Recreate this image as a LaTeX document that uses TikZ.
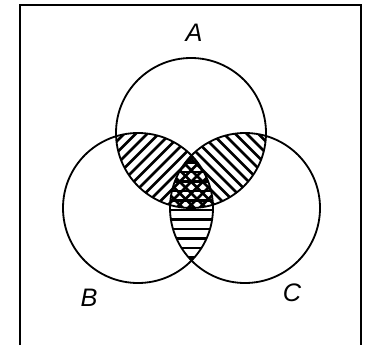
\documentclass[tikz,border=0pt]{standalone}
\usepackage{fontspec}
\setsansfont{Liberation Sans}
\tikzset{
  setline/.style={line width=1.3pt},
  hatch/.style={line width=1.8pt},
  frameline/.style={line width=1.6pt},
  setlabel/.style={font=\sffamily\itshape\fontsize{18}{20}\selectfont, inner sep=0pt}
}
\begin{document}
\begin{tikzpicture}[x=0.25mm, y=-0.25mm]
    \useasboundingbox (0,0) rectangle (366,345);
    \coordinate (cA) at (191,133);
    \coordinate (cB) at (138,208);
    \coordinate (cC) at (245,208);
    % A and B
    \begin{scope}
      \clip (cA) circle[radius=75];
      \clip (cB) circle[radius=75];
      \foreach \c in {235,246.5,...,430} \draw[hatch] (\c-50,50) -- (\c-300,300);
    \end{scope}
    % A and C
    \begin{scope}
      \clip (cA) circle[radius=75];
      \clip (cC) circle[radius=75];
      \foreach \c in {-48,-36.5,...,148} \draw[hatch] (\c+50,50) -- (\c+300,300);
    \end{scope}
    % B and C
    \begin{scope}
      \clip (cB) circle[radius=75];
      \clip (cC) circle[radius=75];
      \foreach \y in {153,162.5,...,262} \draw[hatch] (100,\y) -- (280,\y);
    \end{scope}
    \draw[setline] (cA) circle[radius=75];
    \draw[setline] (cB) circle[radius=75];
    \draw[setline] (cC) circle[radius=75];
    \node[setlabel] (labA) at (194,33) {A};
    \node[setlabel] (labB) at (89,298) {B};
    \node[setlabel] (labC) at (292,293) {C};
    \draw[frameline] (20,345) -- (20,5) -- (361,5) -- (361,345);
  \end{tikzpicture}
\end{document}
